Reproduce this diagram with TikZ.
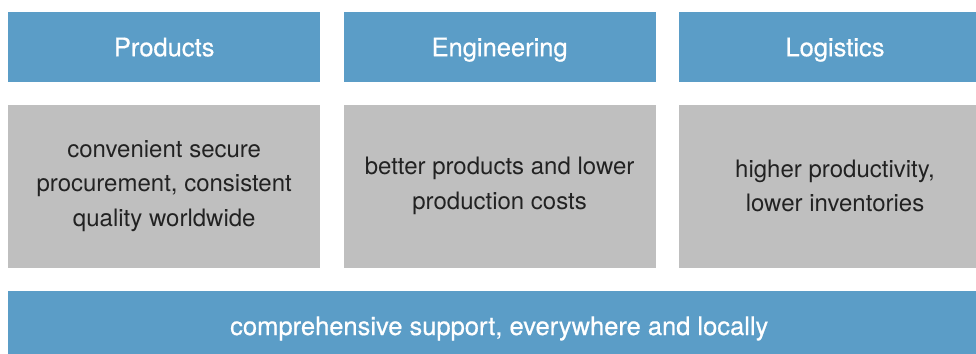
\documentclass[tikz,border=0pt]{standalone}
\usepackage{fontspec}
\setmainfont{TeX Gyre Heros}
\newfontfamily\headfont[FakeBold=0.6]{TeX Gyre Heros}
\usetikzlibrary{positioning}
\definecolor{headblue}{HTML}{5B9DC7}
\definecolor{bodygrey}{HTML}{BFBFBF}
\definecolor{bodytext}{HTML}{222222}

\begin{document}
\begin{tikzpicture}[x=1bp,y=-1bp,
box/.style={rectangle,inner sep=0pt,minimum width=312bp,anchor=north west},
head/.style={box,fill=headblue,text=white,minimum height=70bp,text height=18bp,text depth=0pt,font=\headfont\fontsize{25.5bp}{34bp}\selectfont},
body/.style={box,fill=bodygrey,text=bodytext,minimum height=163bp,align=center,font=\fontsize{24bp}{34.5bp}\selectfont}]
\useasboundingbox (0,0) rectangle (976,353);
\clip (0,0) rectangle (976,353);
\node (hprod) [head] at (8,12) {Products};
\node (heng) [head,right=23bp of hprod.north east,anchor=north west] {Engineering};
\node (hlog) [head,right=23bp of heng.north east,anchor=north west] {Logistics};
\node (bprod) [body,below=22bp of hprod.south west,anchor=north west] {convenient secure\\ procurement, consistent\\ quality worldwide};
\node (beng) [body,below=22bp of heng.south west,anchor=north west] {better products and lower\\ production costs};
\node (blog) [body,below=22bp of hlog.south west,anchor=north west] {higher productivity,\\ lower inventories};
\node (support) [head,minimum width=982bp,below=23bp of bprod.south west,anchor=north west] {comprehensive support, everywhere and locally};
\end{tikzpicture}
\end{document}
